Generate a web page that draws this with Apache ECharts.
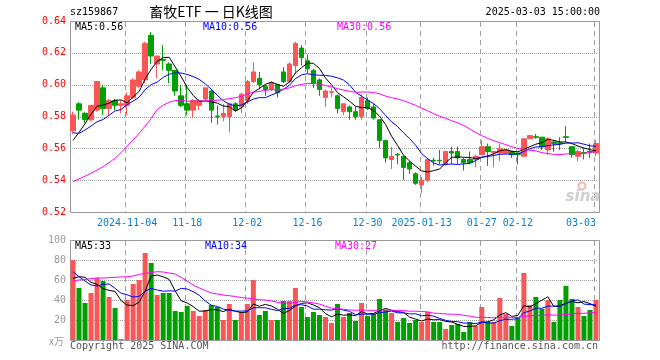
<!DOCTYPE html>
<html><head><meta charset="utf-8">
<script src="https://cdn.jsdelivr.net/npm/echarts@6/dist/echarts.min.js"></script>
<style>html,body{margin:0;padding:0;background:#fff}#c{width:660px;height:360px}</style>
</head><body><div id="c"></div>
<script>
const dates = ['2024-10-22','2024-10-23','2024-10-24','2024-10-25','2024-10-28','2024-10-29','2024-10-30','2024-10-31','2024-11-01','2024-11-04','2024-11-05','2024-11-06','2024-11-07','2024-11-08','2024-11-11','2024-11-12','2024-11-13','2024-11-14','2024-11-15','2024-11-18','2024-11-19','2024-11-20','2024-11-21','2024-11-22','2024-11-25','2024-11-26','2024-11-27','2024-11-28','2024-11-29','2024-12-02','2024-12-03','2024-12-04','2024-12-05','2024-12-06','2024-12-09','2024-12-10','2024-12-11','2024-12-12','2024-12-13','2024-12-16','2024-12-17','2024-12-18','2024-12-19','2024-12-20','2024-12-23','2024-12-24','2024-12-25','2024-12-26','2024-12-27','2024-12-30','2024-12-31','2025-01-02','2025-01-03','2025-01-06','2025-01-07','2025-01-08','2025-01-09','2025-01-10','2025-01-13','2025-01-14','2025-01-15','2025-01-16','2025-01-17','2025-01-20','2025-01-21','2025-01-22','2025-01-23','2025-01-24','2025-01-27','2025-02-05','2025-02-06','2025-02-07','2025-02-10','2025-02-11','2025-02-12','2025-02-13','2025-02-14','2025-02-17','2025-02-18','2025-02-19','2025-02-20','2025-02-21','2025-02-24','2025-02-25','2025-02-26','2025-02-27','2025-02-28','2025-03-03'];
const tickDates = ['2024-11-04','2024-11-18','2024-12-02','2024-12-16','2024-12-30','2025-01-13','2025-01-27','2025-02-12','2025-03-03'];
const tickLabels = ['2024-11-04','11-18','12-02','12-16','12-30','2025-01-13','01-27','02-12','03-03'];
const priceGridValues = [0.54, 0.56, 0.58, 0.60, 0.62];
const volGridValues = [20, 40, 60, 80];

const opens = [.571,.588,.582,.578,.584,.598,.585,.590,.587,.587,
 .592,.599,.603,.631,.613,.6158,.613,.609,.593,.588,
 .584,.587,.591,.596,.5803,.580,.580,.588,.586,.590,
 .602,.604,.599,.597,.600,.608,.602,.612,.623,.615,
 .609,.603,.592,.5952,.593,.583,.586,.583,.580,.590,
 .586,.578,.565,.553,.5562,.555,.551,.544,.537,.540,
 .5525,.5525,.550,.558,.558,.553,.553,.553,.556,.561,
 .5572,.557,.5569,.558,.557,.555,.566,.5673,.567,.559,
 .564,.5635,.5673,.561,.555,.5573,.5581,.557];
const closes = [.581,.584,.578,.587,.602,.585,.590,.587,.588,.593,
 .603,.608,.626,.618,.618,.6152,.609,.596,.587,.584,
 .590,.590,.598,.584,.5798,.582,.588,.584,.594,.602,
 .608,.600,.597,.601,.595,.602,.613,.626,.617,.610,
 .601,.597,.596,.5956,.585,.588,.583,.580,.592,.585,
 .579,.565,.554,.555,.5558,.548,.547,.538,.540,.553,
 .5521,.5521,.558,.557,.554,.551,.551,.555,.561,.558,
 .558,.560,.559,.556,.556,.566,.568,.5669,.561,.566,
 .563,.5631,.5669,.556,.558,.5569,.5577,.563];
const highs = [.583,.589,.583,.587,.602,.600,.591,.591,.590,.595,
 .604,.609,.627,.633,.618,.625,.614,.609,.600,.600,
 .591,.591,.598,.597,.587,.588,.588,.589,.595,.603,
 .614,.608,.600,.602,.600,.611,.614,.627,.625,.619,
 .610,.604,.597,.598,.594,.588,.587,.586,.594,.592,
 .588,.578,.565,.561,.557,.555,.552,.545,.542,.554,
 .554,.559,.558,.561,.561,.554,.558,.556,.565,.563,
 .558,.563,.559,.558,.557,.566,.568,.569,.567,.567,
 .565,.567,.574,.561,.559,.560,.563,.565];
const lows = [.569,.578,.576,.577,.583,.581,.581,.584,.582,.581,
 .591,.598,.601,.613,.604,.609,.601,.593,.586,.581,
 .579,.584,.590,.576,.575,.577,.570,.583,.582,.588,
 .601,.597,.593,.596,.592,.601,.601,.607,.612,.607,
 .598,.593,.586,.592,.582,.581,.578,.578,.578,.584,
 .578,.560,.551,.547,.550,.540,.544,.537,.532,.539,
 .549,.550,.549,.550,.550,.546,.550,.548,.556,.549,
 .548,.552,.557,.554,.550,.555,.566,.566,.559,.556,
 .558,.559,.564,.554,.552,.553,.554,.555];

const ma5 = [.565,.570,.5755,.5815,.5864,.5872,.5884,.5902,.5904,.5886,
 .5922,.5958,.6036,.6096,.6146,.6170,.6172,.6112,.6050,.5982,
 .5932,.5894,.5898,.5892,.5884,.5866,.5862,.5834,.5854,.5898,
 .5952,.5976,.6002,.6016,.6002,.5990,.6016,.6074,.6106,.6136,
 .6134,.6102,.6042,.6000,.5950,.5924,.5896,.5864,.5856,.5856,
 .5838,.5802,.5750,.5676,.5618,.5556,.5520,.5488,.5458,.5452,
 .5460,.5470,.5510,.5544,.5546,.5544,.5542,.5536,.5544,.5552,
 .5566,.5584,.5592,.5582,.5578,.5594,.5610,.5626,.5636,.5656,
 .5650,.5640,.5640,.5630,.5614,.5602,.5592,.5584];
const ma10 = [.5698,.5694,.5715,.5740,.5767,.5781,.5808,.5835,.5844,.5875,
 .5897,.5921,.5969,.6000,.6016,.6046,.6065,.6074,.6073,.6064,
 .6051,.6033,.6005,.5971,.5933,.5899,.5878,.5866,.5873,.5891,
 .5909,.5919,.5918,.5935,.5950,.5971,.5996,.6038,.6061,.6069,
 .6062,.6059,.6058,.6053,.6043,.6029,.5999,.5953,.5928,.5903,
 .5881,.5849,.5807,.5766,.5737,.5697,.5661,.5619,.5567,.5535,
 .5508,.5495,.5499,.5501,.5499,.5502,.5506,.5523,.5544,.5549,
 .5555,.5563,.5564,.5563,.5565,.5580,.5597,.5609,.5609,.5617,
 .5622,.5625,.5633,.5633,.5635,.5626,.5616,.5612];
const ma30 = [.5390,.5408,.5425,.5444,.5463,.5485,.5510,.5538,.5573,.5615,
 .5652,.5694,.5740,.5787,.5844,.5871,.5890,.5900,.5902,.5896,
 .5896,.5897,.5898,.5899,.5902,.5906,.5912,.5918,.5926,.5943,
 .5952,.5958,.5964,.5969,.5966,.5972,.5980,.5993,.6002,.6008,
 .6007,.6004,.5994,.5986,.5975,.5966,.5958,.5952,.5954,.5954,
 .5951,.5942,.5928,.5918,.5910,.5899,.5885,.5870,.5852,.5836,
 .5817,.5801,.5788,.5773,.5760,.5743,.5722,.5698,.5680,.5662,
 .5648,.5636,.5623,.5610,.5600,.5593,.5588,.5584,.5573,.5567,
 .5562,.5561,.5565,.5566,.5566,.5569,.5573,.5581];

const vol = [80,52,37,47,62,59,43,32,1,40,
 56,60,87,77,45,47,47,29,28,34,
 29,24,30,35,33,20,36,20,28,36,
 60,25,29,20,20,39,39,52,33,23,
 28,25,23,17,36,23,27,19,37,24,
 26,41,30,27,18,22,17,20,18,28,
 18,18,11,15,16,8,18,14,33,18,
 18,42,26,14,23,67,35,43,31,40,
 18,40,54,41,33,24,30,40];
const vma5 = [61.7,63.3,62.7,57.7,55.6,51.4,49.6,48.6,39.4,35.0,
 34.4,37.8,48.8,64.0,65.0,63.2,60.6,49.0,39.2,37.0,
 33.4,28.8,29.0,30.4,30.2,28.4,30.8,28.8,27.4,28.0,
 36.0,33.8,35.6,34.0,30.8,26.6,29.4,34.0,36.6,37.2,
 35.0,32.2,26.4,23.2,25.8,24.8,25.2,24.4,28.4,26.0,
 26.6,29.4,31.6,29.6,28.4,27.6,22.8,20.8,19.0,21.0,
 20.2,20.4,18.6,18.0,15.6,13.6,13.6,14.2,17.8,18.2,
 20.2,25.0,27.4,23.6,24.6,34.4,33.0,36.4,39.8,43.2,
 33.4,34.4,36.6,38.6,37.2,38.4,36.4,33.6];
const vma10 = [68.3,63.3,59.0,55.0,54.0,55.7,56.0,51.7,46.7,45.3,
 42.9,43.7,48.7,51.7,50.0,48.8,49.2,48.9,51.6,51.0,
 48.3,44.7,39.0,34.8,33.6,30.9,29.8,28.9,28.9,29.1,
 32.2,32.3,32.2,30.7,29.4,31.3,31.6,34.8,35.3,34.0,
 30.8,30.8,30.2,29.9,31.5,29.9,28.7,25.4,25.8,25.9,
 25.7,27.3,28.0,29.0,27.2,27.1,26.1,26.2,24.3,24.7,
 23.9,21.6,19.7,18.5,18.3,16.9,17.0,16.4,17.9,16.9,
 16.9,19.3,20.8,20.7,21.4,27.3,29.0,31.9,31.7,33.9,
 33.9,33.7,36.5,39.2,40.2,35.9,35.4,35.1];
const vma30 = [59.0,60.0,60.5,61.5,62.0,62.0,62.3,62.7,63.0,63.3,
 64.0,65.5,66.7,67.5,68.3,68.0,67.0,66.0,62.5,59.0,
 55.0,52.0,49.5,47.0,46.0,45.0,44.3,43.5,42.5,41.8,
 41.1,40.2,40.0,39.1,37.7,37.0,36.9,37.5,38.6,38.0,
 37.1,35.9,33.8,31.8,31.5,30.7,30.0,29.7,30.0,29.7,
 29.6,30.1,30.1,29.9,29.4,29.4,28.8,28.8,28.5,28.2,
 26.8,26.6,26.0,25.8,25.7,24.6,23.9,22.7,22.7,22.5,
 22.2,22.7,22.8,22.7,22.3,23.8,24.0,24.8,24.6,25.2,
 24.9,24.9,25.7,26.1,26.6,26.7,27.1,27.8];

const RED = '#fa5656', GREEN = '#00a000';
const MONO = '"DejaVu Sans Mono", monospace';
const PLOT_L = 70, PLOT_R = 599;
const GRAY = '#a0a0a0';

const chart = echarts.init(document.getElementById('c'));
const kData = dates.map((d, i) => [opens[i], closes[i], lows[i], highs[i]]);
const xData = dates.map((d, i) => i === dates.length - 1 ? { value: d, textStyle: { align: 'right' } } : d);

const lineS = (data, color, xi) => ({
  type: 'line', data, xAxisIndex: xi, yAxisIndex: xi, showSymbol: false, symbol: 'none',
  silent: true, lineStyle: { color, width: 1 }, itemStyle: { color }, z: 7
});
const txt = (text, x, y, fill, align, font) => ({
  type: 'text', x, y, silent: true, z: 10,
  style: { text, fill, align: align || 'left', verticalAlign: 'middle', font: font || ('10px ' + MONO) }
});

chart.setOption({
  animation: false,
  backgroundColor: '#fff',
  grid: [
    { left: PLOT_L, right: 660 - PLOT_R, top: 21, height: 191, show: false },
    { left: PLOT_L, right: 660 - PLOT_R, top: 240, height: 100, show: false }
  ],
  xAxis: [
    { type: 'category', gridIndex: 0, data: xData, boundaryGap: true,
      axisLine: { show: false }, axisTick: { show: false }, splitLine: { show: false },
      axisLabel: { interval: (i) => tickDates.indexOf(dates[i]) >= 0,
        formatter: (v, i) => { const k = tickDates.indexOf(dates[i]); return k >= 0 ? tickLabels[k] : ''; },
        color: '#0a80d2', fontFamily: MONO, fontSize: 10, margin: 6 } },
    { type: 'category', gridIndex: 1, data: dates, boundaryGap: true,
      axisLine: { show: false }, axisTick: { show: false }, axisLabel: { show: false }, splitLine: { show: false } }
  ],
  yAxis: [
    { type: 'value', gridIndex: 0, min: 0.52, max: 0.64, interval: 0.02,
      axisLine: { show: false }, axisTick: { show: false }, splitLine: { show: false },
      axisLabel: { color: '#ff0000', fontFamily: MONO, fontSize: 10, margin: 4, formatter: v => v.toFixed(2) } },
    { type: 'value', gridIndex: 1, min: 0, max: 100, interval: 20,
      axisLine: { show: false }, axisTick: { show: false }, splitLine: { show: false },
      axisLabel: { color: '#9a9a9a', fontFamily: MONO, fontSize: 10, margin: 4, formatter: v => v === 0 ? '' : String(v) } }
  ],
  series: [
    { type: 'candlestick', xAxisIndex: 0, yAxisIndex: 0, data: kData, barWidth: 5, silent: true,
      itemStyle: { color: RED, color0: GREEN, borderColor: RED, borderColor0: GREEN, borderWidth: 1 }, z: 6 },
    lineS(ma5, '#000000', 0), lineS(ma10, '#0000ff', 0), lineS(ma30, '#ff00ff', 0),
    { type: 'bar', xAxisIndex: 1, yAxisIndex: 1, barWidth: 5, silent: true, z: 6,
      data: vol.map((v, i) => ({ value: v, itemStyle: { color: closes[i] > opens[i] ? RED : GREEN } })) },
    lineS(vma5, '#000000', 1), lineS(vma10, '#0000ff', 1), lineS(vma30, '#ff00ff', 1)
  ]
});

// grid lines and frames, positioned through the chart's own scales (layout fallback if unavailable)
const toPx = (finder, v, fb) => { const p = chart.convertToPixel(finder, v); return (typeof p === 'number' && isFinite(p)) ? p : fb; };
const gridEls = [];
const panels = [
  { xi: 0, yi: 0, lo: 0.52, hi: 0.64, top: 21, h: 191, vals: priceGridValues },
  { xi: 1, yi: 1, lo: 0, hi: 100, top: 240, h: 100, vals: volGridValues }
];
panels.forEach(p => {
  const yOf = v => toPx({ yAxisIndex: p.yi }, v, p.top + (p.hi - v) / (p.hi - p.lo) * p.h);
  const yTop = Math.round(yOf(p.hi)), yBot = Math.round(yOf(p.lo));
  p.vals.forEach(v => {
    const y = Math.round(yOf(v));
    for (let x = PLOT_L + 2; x < PLOT_R - 1; x += 2) {
      gridEls.push({ type: 'rect', silent: true, z: 3, shape: { x: x, y: y, width: 1, height: 1 }, style: { fill: GRAY } });
    }
  });
  tickDates.forEach(d => {
    const k = dates.indexOf(d);
    const cx = toPx({ xAxisIndex: p.xi }, d, PLOT_L + (k + 0.5) * (PLOT_R - PLOT_L) / dates.length);
    const x = Math.round(cx) - 2;
    for (let y = yTop + 1; y < yBot; y += 9) {
      gridEls.push({ type: 'rect', silent: true, z: 3, shape: { x: x, y: y, width: 1, height: Math.min(5, yBot - y) }, style: { fill: GRAY } });
    }
  });
  gridEls.push({ type: 'rect', silent: true, z: 4,
    shape: { x: PLOT_L + 0.5, y: yTop + 0.5, width: PLOT_R - PLOT_L, height: yBot - yTop },
    style: { fill: 'none', stroke: '#9a9a9a', lineWidth: 1 } });
});

chart.setOption({
  graphic: gridEls.concat([
    txt('sz159867', 70, 12, '#000'),
    txt('畜牧ETF 一 日K线图', 211, 12, '#000', 'center', '14px "Noto Sans CJK SC"'),
    txt('2025-03-03 15:00:00', 600, 12, '#000', 'right'),
    txt('MA5:0.56', 75, 27, '#000'),
    txt('MA10:0.56', 203, 27, '#0000ff'),
    txt('MA30:0.56', 337, 27, '#ff00ff'),
    txt('MA5:33', 75, 246, '#000'),
    txt('MA10:34', 205, 246, '#0000ff'),
    txt('MA30:27', 335, 246, '#ff00ff'),
    txt('x万', 64, 341, '#9a9a9a', 'right', '10px "Noto Sans CJK SC"'),
    txt('Copyright 2025 SINA.COM', 70, 346, '#555'),
    txt('http://finance.sina.com.cn', 598, 346, '#555', 'right'),
    { type: 'circle', silent: true, z: 4, shape: { cx: 582, cy: 186, r: 3.5 }, style: { fill: 'none', stroke: '#f3b5b5', lineWidth: 2 } },
    txt('sina', 583, 197, '#cfcfcf', 'center', 'italic bold 15px "DejaVu Sans"')
  ])
});
</script>
</body></html>
